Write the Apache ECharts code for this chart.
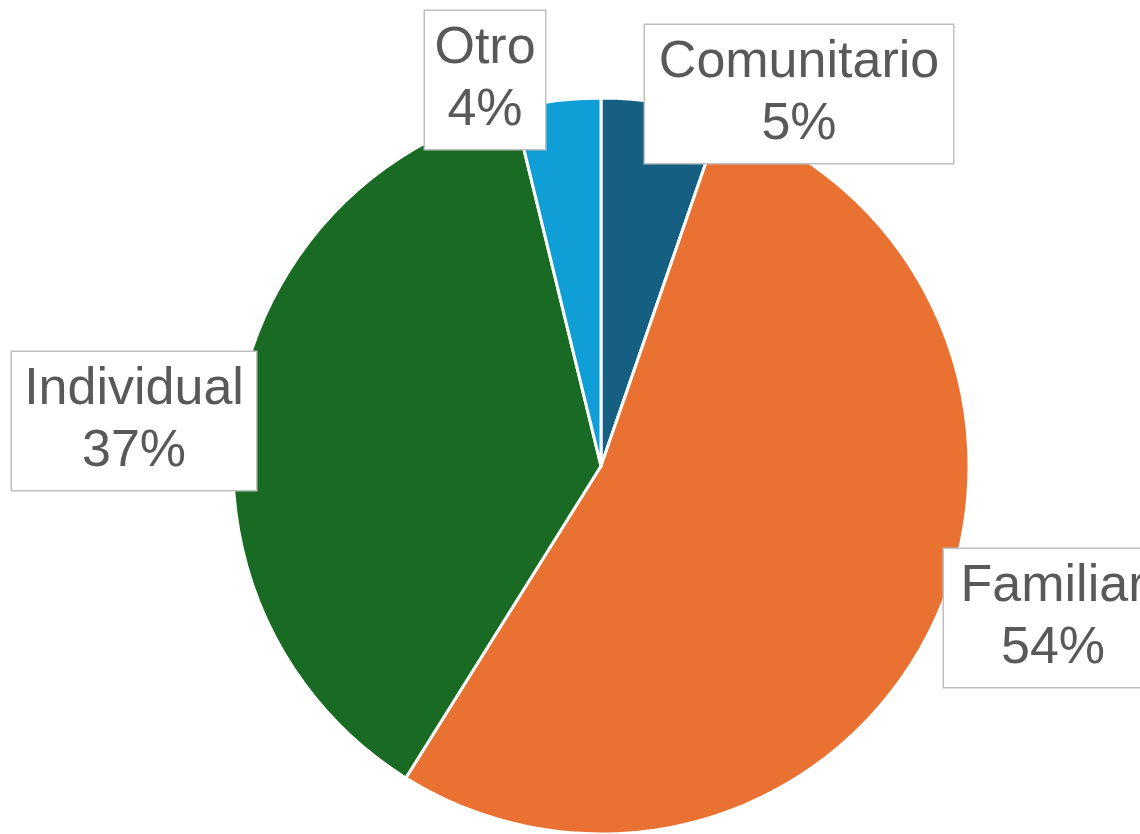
<!DOCTYPE html>
<html>
<head>
<meta charset="utf-8">
<script src="https://cdn.jsdelivr.net/npm/echarts@6/dist/echarts.min.js"></script>
<style>
html,body{margin:0;padding:0;background:#fff;}
#chart{width:1140px;height:834px;}
</style>
</head>
<body>
<div id="chart"></div>
<script>
const categories = ['Comunitario', 'Familiar', 'Individual', 'Otro'];
const values = [5.3, 53.6, 37.3, 3.8];
const colors = ['#156082', '#E97132', '#196B24', '#0F9ED5'];
// label box centres and text widths (pixels)
const labelCenters = [[799, 94], [1053, 618], [134, 421], [485, 80]];
const labelWidths = [286, 196, 222, 98];

const chart = echarts.init(document.getElementById('chart'));
chart.setOption({
  animation: false,
  series: [{
    type: 'pie',
    center: [601, 466],
    radius: 368,
    startAngle: 90,
    clockwise: true,
    percentPrecision: 0,
    data: categories.map((c, i) => ({
      name: c, value: values[i],
      itemStyle: { color: colors[i] },
      label: { width: labelWidths[i] }
    })),
    itemStyle: { borderColor: '#ffffff', borderWidth: 3 },
    label: {
      show: true,
      position: 'outside',
      formatter: '{b}\n{d}%',
      fontFamily: 'Liberation Sans, Arial, sans-serif',
      fontSize: 52,
      lineHeight: 62,
      color: '#595959',
      align: 'center',
      overflow: 'none',
      backgroundColor: '#ffffff',
      borderColor: '#bfbfbf',
      borderWidth: 1.5,
      padding: [7, 11, 7, 11]
    },
    labelLine: { show: false },
    labelLayout: function (params) {
      const p = labelCenters[params.dataIndex];
      return { x: p[0], y: p[1], align: 'center', verticalAlign: 'middle' };
    },
    emphasis: { disabled: true }
  }]
});
</script>
</body>
</html>
